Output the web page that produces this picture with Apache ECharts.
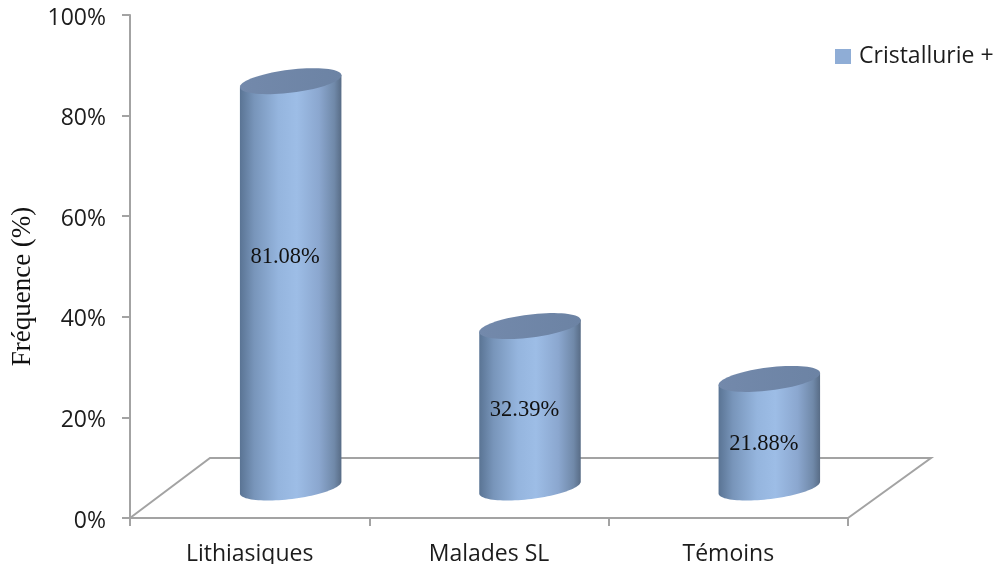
<!DOCTYPE html>
<html>
<head>
<meta charset="utf-8">
<style>html,body{margin:0;padding:0;background:#fff}#chart{width:995px;height:564px}</style>
<script src="https://cdn.jsdelivr.net/npm/echarts@6/dist/echarts.min.js"></script>
</head>
<body>
<div id="chart"></div>
<script>
// Crystalluria frequency per patient group
const categories = ['Lithiasiques', 'Malades SL', 'Témoins'];
const frequencies = [81.08, 32.39, 21.88];
const seriesName = 'Cristallurie +';
const axisTitle = 'Fréquence (%)';

// Pseudo-3D layout: cylinders stand in the middle of a floor receding behind the axes
const DEPTH_X = 41, DEPTH_Y = -29, RIM_LIFT = 1.5;
const FLOOR = { leftX: 80, rightX: 83, y: -60 };
const RADIUS_X = 51, RADIUS_Y = 11.5, TILT = 7 * Math.PI / 180;
const LABEL_SHIFT = [-28, 3, 10];
const AXIS_GREY = '#a3a3a3';
const TEXT = '#1c1c1c';
const SANS = '"Open Sans", "Noto Sans", sans-serif';
const SERIF = '"Liberation Serif", serif';

// Point on a tilted ellipse centred on (cx, cy)
function ellipsePoint(cx, cy, t) {
  const a = RADIUS_X / Math.cos(TILT) * 0.995, b = RADIUS_Y;
  const x = a * Math.cos(t), y = b * Math.sin(t);
  return [cx + x * Math.cos(TILT) + y * Math.sin(TILT),
          cy - x * Math.sin(TILT) + y * Math.cos(TILT)];
}

function ellipseArc(cx, cy, from, to, steps) {
  const pts = [];
  for (let i = 0; i <= steps; i++) pts.push(ellipsePoint(cx, cy, from + (to - from) * i / steps));
  return pts;
}

function renderCylinder(params, api) {
  const top = api.coord([api.value(0), api.value(1)]);
  const base = api.coord([api.value(0), 0]);
  const cx = top[0] + DEPTH_X;
  const topY = top[1] + DEPTH_Y;
  const baseY = base[1] + DEPTH_Y;
  // Silhouette: straight sides joined by the front half of the lower rim
  const body = [ellipsePoint(cx, topY, Math.PI)]
    .concat(ellipseArc(cx, baseY - RIM_LIFT, Math.PI, 0, 48))
    .concat([ellipsePoint(cx, topY, 0)]);
  const side = new echarts.graphic.LinearGradient(0, 0, 1, 0, [
    { offset: 0, color: '#5a7494' },
    { offset: 0.14, color: '#7895ba' },
    { offset: 0.38, color: '#95b5de' },
    { offset: 0.56, color: '#9dbde6' },
    { offset: 0.78, color: '#8ba7cf' },
    { offset: 0.93, color: '#7089a9' },
    { offset: 1, color: '#586c86' }
  ]);
  const cap = new echarts.graphic.LinearGradient(0, 0, 1, 0, [
    { offset: 0, color: '#7389ab' },
    { offset: 1, color: '#6c83a4' }
  ]);
  return {
    type: 'group',
    children: [
      { type: 'polygon', shape: { points: body }, style: { fill: side }, z2: 1 },
      { type: 'polygon', shape: { points: ellipseArc(cx, topY, 0, Math.PI * 2, 72) }, style: { fill: cap }, z2: 2 },
      {
        type: 'text', z2: 3,
        style: {
          text: api.value(1).toFixed(2) + '%',
          x: cx - 5.5, y: (topY + baseY) / 2 + LABEL_SHIFT[params.dataIndex],
          align: 'center', verticalAlign: 'middle',
          font: '22.5px ' + SERIF, fill: '#111'
        }
      }
    ]
  };
}

// Floor outline running back from the category axis
function renderFloor(params, api) {
  const band = api.size([1, 0])[0];
  const first = api.coord([0, 0]);
  const last = api.coord([categories.length - 1, 0]);
  const left = first[0] - band / 2, right = last[0] + band / 2, y = first[1];
  return {
    type: 'polyline',
    shape: { points: [[left, y], [left + FLOOR.leftX, y + FLOOR.y], [right + FLOOR.rightX, y + FLOOR.y], [right, y]] },
    style: { stroke: AXIS_GREY, lineWidth: 2, fill: 'none' }
  };
}

const chart = echarts.init(document.getElementById('chart'), null, { renderer: 'canvas' });
chart.setOption({
  animation: false,
  backgroundColor: '#fff',
  grid: { left: 130, right: 147, top: 15, bottom: 46, outerBoundsMode: 'none' },
  legend: {
    data: [seriesName], left: 830, top: 40, icon: 'rect',
    itemWidth: 16, itemHeight: 15, itemGap: 0, selectedMode: false,
    textStyle: { fontFamily: SANS, fontSize: 23, color: TEXT, padding: [0, 0, 0, 3] }
  },
  xAxis: {
    type: 'category', data: categories,
    axisLine: { lineStyle: { color: AXIS_GREY, width: 2 } },
    axisTick: { show: true, alignWithLabel: false, length: 8, lineStyle: { color: AXIS_GREY, width: 2 } },
    axisLabel: { fontFamily: SANS, fontSize: 23, color: TEXT, margin: 25 }
  },
  yAxis: {
    type: 'value', min: 0, max: 100, interval: 20,
    name: axisTitle, nameLocation: 'middle', nameRotate: 90, nameGap: 93,
    nameTextStyle: { fontFamily: SERIF, fontSize: 27, color: '#111', padding: [0, 40, 0, 0] },
    splitLine: { show: false },
    axisLine: { show: true, lineStyle: { color: AXIS_GREY, width: 2 } },
    axisTick: { show: true, length: 8, lineStyle: { color: AXIS_GREY, width: 2 } },
    axisLabel: { fontFamily: SANS, fontSize: 23, color: TEXT, margin: 24, verticalAlign: 'top', lineHeight: 6, formatter: '{value}%' }
  },
  series: [
    {
      type: 'custom', name: 'Sol', silent: true, z: 1,
      renderItem: renderFloor,
      data: [[0, 0]],
      encode: { x: 0, y: 1 }
    },
    {
      type: 'custom', name: seriesName, z: 2,
      itemStyle: { color: '#8fadd6' },
      renderItem: renderCylinder,
      data: frequencies.map((v, i) => [i, v]),
      encode: { x: 0, y: 1 }
    }
  ]
});
</script>
</body>
</html>
